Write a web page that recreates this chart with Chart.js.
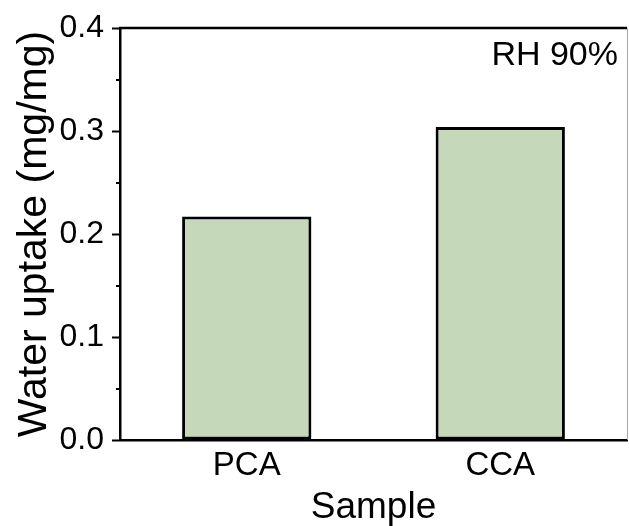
<!DOCTYPE html>
<html>
<head>
<meta charset="utf-8">
<script src="https://cdn.jsdelivr.net/npm/chart.js@4"></script>
<style>
  html, body { margin: 0; padding: 0; background: #fff; }
  #wrap { width: 629px; height: 526px; }
</style>
</head>
<body>
<div id="wrap"><canvas id="myChart" width="629" height="526"></canvas></div>
<script>
// values
const samples = ['PCA', 'CCA'];
const uptake = [0.217, 0.304];
const yTicks = [0, 0.1, 0.2, 0.3, 0.4];
const minorTicks = [0.05, 0.15, 0.25, 0.35];
const note = 'RH 90%';

const FONT = "'Liberation Sans', Arial, sans-serif";

// minor ticks, the top/right frame and the RH note
const frame = {
  id: 'frame',
  afterDraw(chart) {
    const ctx = chart.ctx;
    const a = chart.chartArea;
    const y = chart.scales.y;
    ctx.save();
    ctx.strokeStyle = '#000';
    ctx.lineWidth = 2;
    minorTicks.forEach(v => {
      const py = Math.round(y.getPixelForValue(v));
      ctx.beginPath();
      ctx.moveTo(a.left - 4, py);
      ctx.lineTo(a.left, py);
      ctx.stroke();
    });
    ctx.lineWidth = 2.5;
    ctx.beginPath();
    ctx.moveTo(a.left - 1, a.top);
    ctx.lineTo(a.right, a.top);
    ctx.stroke();
    ctx.strokeStyle = '#aaa';
    ctx.lineWidth = 1;
    ctx.beginPath();
    ctx.moveTo(a.right + 0.5, a.top);
    ctx.lineTo(a.right + 0.5, a.bottom);
    ctx.stroke();
    ctx.fillStyle = '#000';
    ctx.font = '34px ' + FONT;
    ctx.textAlign = 'right';
    ctx.textBaseline = 'alphabetic';
    ctx.fillText(note, a.right - 9, a.top + 37);
    ctx.restore();
  }
};

new Chart(document.getElementById('myChart'), {
  type: 'bar',
  data: {
    labels: samples,
    datasets: [{
      data: uptake,
      backgroundColor: '#c5d8b9',
      borderColor: '#000',
      borderWidth: 3,
      borderSkipped: false,
      barPercentage: 0.51,
      categoryPercentage: 1
    }]
  },
  options: {
    responsive: false,
    animation: false,
    layout: { padding: { top: 28, right: 2, left: 0, bottom: 0 } },
    plugins: { legend: { display: false }, tooltip: { enabled: false } },
    scales: {
      x: {
        grid: { display: false, drawTicks: false },
        border: { display: true, color: '#000', width: 2.5 },
        ticks: { color: '#000', font: { family: FONT, size: 33 }, padding: 6 },
        title: {
          display: true, text: 'Sample', color: '#000',
          font: { family: FONT, size: 37, lineHeight: 1.0 }, padding: { top: 0, bottom: 0 }
        },
        afterFit(scale) { scale.height = 86; }
      },
      y: {
        min: 0, max: 0.4,
        afterBuildTicks(scale) { scale.ticks = yTicks.map(v => ({ value: v })); },
        grid: { drawOnChartArea: false, drawTicks: true, tickLength: 8, tickWidth: 2, tickColor: '#000' },
        border: { display: true, color: '#000', width: 2.5 },
        ticks: {
          color: '#000', font: { family: FONT, size: 32 }, padding: 8,
          callback: v => v.toFixed(1)
        },
        title: {
          display: true, text: 'Water uptake (mg/mg)', color: '#000',
          font: { family: FONT, size: 41 }, padding: { top: 10, bottom: 0 }
        },
        afterFit(scale) { scale.width = 120; }
      }
    }
  },
  plugins: [frame]
});
</script>
</body>
</html>
